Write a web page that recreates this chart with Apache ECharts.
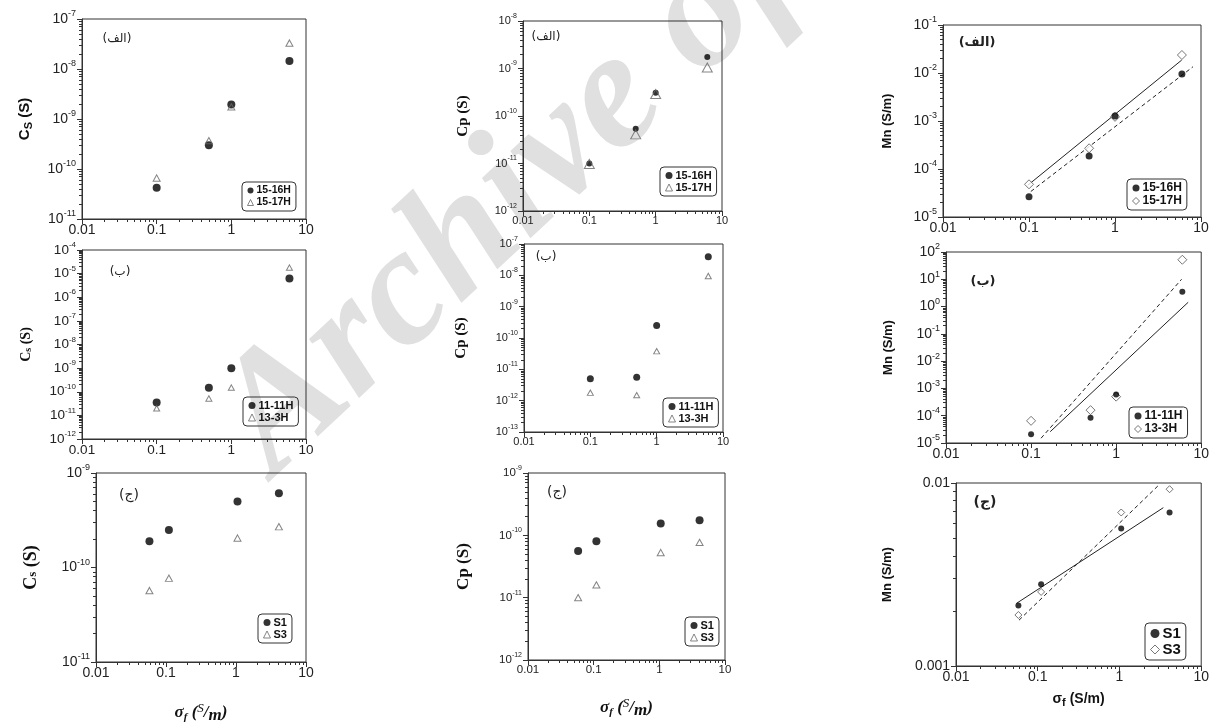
<!DOCTYPE html>
<html>
<head>
<meta charset="utf-8">
<script src="https://cdn.jsdelivr.net/npm/echarts@6/dist/echarts.min.js"></script>
<style>
  html, body { margin: 0; padding: 0; background: #fff; }
  #chart { width: 1212px; height: 725px; }
</style>
</head>
<body>
<div id="chart"></div>
<script>
// ---- σf values (S/m) ----
const sigmaAB = [0.1, 0.5, 1, 6];
const sigmaC = [0.058, 0.11, 1.05, 4.1];

// ---- tick labels ----
const xTicks = [0.01, 0.1, 1, 10];
const xTickLabels = ['0.01', '0.1', '1', '10'];
const mnTicksC = [0.001, 0.01];
const mnTickLabelsC = ['0.001', '0.01'];

// ---- panel (الف) ----
const cs_15_16H = [4.2e-11, 3.0e-10, 1.95e-9, 1.45e-8];
const cs_15_17H = [6.6e-11, 3.7e-10, 1.75e-9, 3.3e-8];
const cp_15_16H = [1.0e-11, 5.4e-11, 3.1e-10, 1.74e-9];
const cp_15_17H = [9.8e-12, 4.1e-11, 2.9e-10, 1.05e-9];
const mn_15_16H = [2.65e-5, 1.86e-4, 1.27e-3, 9.5e-3];
const mn_15_17H = [4.8e-5, 2.7e-4, 1.22e-3, 2.37e-2];
const mnFitSolidA = [[0.097, 4.6e-5], [5.97, 1.86e-2]];
const mnFitDashedA = [[0.105, 3.4e-5], [8.07, 1.35e-2]];

// ---- panel (ب) ----
const cs_11_11H = [3.5e-11, 1.48e-10, 1.0e-9, 6.2e-6];
const cs_13_3H = [2.0e-11, 5.2e-11, 1.5e-10, 1.8e-5];
const cp_11_11H = [5.0e-12, 5.6e-12, 2.5e-10, 3.9e-8];
const cp_13_3H = [1.8e-12, 1.5e-12, 3.8e-11, 9.5e-9];
const mn_11_11H = [2.1e-5, 8.5e-5, 6.0e-4, 3.5];
const mn_13_3H = [6.5e-5, 1.6e-4, 5.0e-4, 52];
const mnFitSolidB = [[0.168, 2.6e-5], [7.03, 1.44]];
const mnFitDashedB = [[0.131, 1.5e-5], [5.88, 10]];

// ---- panel (ج) ----
const cs_S1 = [1.9e-10, 2.5e-10, 5.0e-10, 6.1e-10];
const cs_S3 = [5.7e-11, 7.7e-11, 2.05e-10, 2.7e-10];
const cp_S1 = [5.6e-11, 8.0e-11, 1.55e-10, 1.74e-10];
const cp_S3 = [1.0e-11, 1.6e-11, 5.3e-11, 7.7e-11];
const mn_S1 = [2.14e-3, 2.8e-3, 5.65e-3, 6.9e-3];
const mn_S3 = [1.9e-3, 2.54e-3, 6.9e-3, 9.25e-3];
const mnFitSolidC = [[0.055, 2.2e-3], [3.44, 7.33e-3]];
const mnFitDashedC = [[0.059, 1.78e-3], [3.07, 9.8e-3]];

const SANS = '"Liberation Sans", Arial, sans-serif';
const SERIF = '"Liberation Serif", "Times New Roman", serif';
const ARABIC = '"DejaVu Sans", sans-serif';

// decade ticks and 2..9 minor ticks between two powers of ten
function decades(lo, hi) {
  const out = [];
  for (let e = lo; e <= hi; e++) out.push(Number(Math.pow(10, e).toPrecision(3)));
  return out;
}
function minors(lo, hi) {
  const out = [];
  for (let e = lo; e < hi; e++)
    for (let k = 2; k <= 9; k++) out.push(Number((k * Math.pow(10, e)).toPrecision(3)));
  return out;
}
function pow10Label(v) {
  return '10{e|' + Math.round(Math.log10(v)) + '}';
}

const nameCsBold = { text: '{b|C}{bs|S}{b| (S)}', rich: {
  b: { fontFamily: SANS, fontWeight: 'bold', fontSize: 15, color: '#111' },
  bs: { fontFamily: SANS, fontWeight: 'bold', fontSize: 11, color: '#111', padding: [7, 0, 0, 0] } } };
function nameCsSerif(fs) {
  return { text: '{c|C}{s|s}{c| (S)}', rich: {
    c: { fontFamily: SERIF, fontWeight: 'bold', fontSize: fs, color: '#111' },
    s: { fontFamily: SERIF, fontWeight: 'bold', fontSize: Math.round(fs * 0.72), color: '#111', padding: [4, 0, 0, 0] } } };
}
function nameCp(fs) {
  return { text: '{c|Cp (S)}', rich: { c: { fontFamily: SERIF, fontWeight: 'bold', fontSize: fs, color: '#111' } } };
}
const nameMn = { text: '{m|Mn (S/m)}', rich: { m: { fontFamily: SANS, fontWeight: 'bold', fontSize: 13, color: '#111' } } };

const sigmaSerif = { text: '{g|σ}{f|f}{g| (}{S|S}{g|/}{m|m}{g|)}', rich: {
  g: { fontFamily: SERIF, fontStyle: 'italic', fontWeight: 'bold', fontSize: 17, color: '#111' },
  f: { fontFamily: SERIF, fontStyle: 'italic', fontWeight: 'bold', fontSize: 11, color: '#111', padding: [8, 0, 0, 0] },
  S: { fontFamily: SERIF, fontStyle: 'italic', fontSize: 13, color: '#111', padding: [0, 0, 8, 0] },
  m: { fontFamily: SERIF, fontStyle: 'italic', fontWeight: 'bold', fontSize: 17, color: '#111', padding: [5, 0, 0, 0] } } };
const sigmaSans = { text: '{g|σ}{f|f}{g| (S/m)}', rich: {
  g: { fontFamily: SANS, fontWeight: 'bold', fontSize: 14, color: '#111' },
  f: { fontFamily: SANS, fontWeight: 'bold', fontSize: 11, color: '#111', padding: [7, 0, 0, 0] } } };

const DOT = { symbol: 'circle', itemStyle: { color: '#000' } };
const TRI = { symbol: 'triangle', itemStyle: { color: 'rgba(255,255,255,0)', borderColor: '#666', borderWidth: 1 } };
const DIA = { symbol: 'diamond', itemStyle: { color: '#fff', borderColor: '#555', borderWidth: 1 } };

const panels = [
  { grid: { left: 82, top: 19, width: 224, height: 200 }, yExp: [-11, -7], tickFont: 14, yName: nameCsBold, yGap: 48,
    pts: [{ n: '15-16H', x: sigmaAB, y: cs_15_16H, m: DOT, s: 8 }, { n: '15-17H', x: sigmaAB, y: cs_15_17H, m: TRI, s: 7 }],
    lg: { left: 242, top: 182, fs: 10.5 }, tag: { t: '(الف)', x: 117, y: 39, w: 'normal', fs: 12 } },
  { grid: { left: 523, top: 21, width: 199, height: 190 }, yExp: [-12, -8], tickFont: 11, yName: nameCp(15), yGap: 52,
    pts: [{ n: '15-16H', x: sigmaAB, y: cp_15_16H, m: DOT, s: 6 }, { n: '15-17H', x: sigmaAB, y: cp_15_17H, m: TRI, s: 10 }],
    lg: { left: 660, top: 167, fs: 11 }, tag: { t: '(الف)', x: 546, y: 37, w: 'normal', fs: 12 } },
  { grid: { left: 943, top: 25, width: 258, height: 192 }, yExp: [-5, -1], tickFont: 14, yName: nameMn, yGap: 49,
    pts: [{ n: '15-17H', x: sigmaAB, y: mn_15_17H, m: DIA, s: 9 }, { n: '15-16H', x: sigmaAB, y: mn_15_16H, m: DOT, s: 7 }],
    fits: [[mnFitSolidA, 'solid'], [mnFitDashedA, [4, 3]]],
    lg: { left: 1127, top: 179, fs: 12, order: ['15-16H', '15-17H'] }, tag: { t: '(الف)', x: 977, y: 43, w: 'bold', fs: 13 } },
  { grid: { left: 82, top: 250, width: 224, height: 189 }, yExp: [-12, -4], tickFont: 13.5, yName: nameCsSerif(14), yGap: 49,
    pts: [{ n: '11-11H', x: sigmaAB, y: cs_11_11H, m: DOT, s: 8 }, { n: '13-3H', x: sigmaAB, y: cs_13_3H, m: TRI, s: 6 }],
    lg: { left: 243, top: 397, fs: 11 }, tag: { t: '(ب)', x: 120, y: 272, w: 'normal', fs: 12 } },
  { grid: { left: 524, top: 244, width: 199, height: 188 }, yExp: [-13, -7], tickFont: 11, yName: nameCp(15), yGap: 55,
    pts: [{ n: '11-11H', x: sigmaAB, y: cp_11_11H, m: DOT, s: 7 }, { n: '13-3H', x: sigmaAB, y: cp_13_3H, m: TRI, s: 6 }],
    lg: { left: 663, top: 398, fs: 11 }, tag: { t: '(ب)', x: 546, y: 257, w: 'normal', fs: 12 } },
  { grid: { left: 946, top: 252, width: 257, height: 191 }, yExp: [-5, 2], tickFont: 14, yName: nameMn, yGap: 51,
    pts: [{ n: '13-3H', x: sigmaAB, y: mn_13_3H, m: DIA, s: 9 }, { n: '11-11H', x: sigmaAB, y: mn_11_11H, m: DOT, s: 6 }],
    fits: [[mnFitSolidB, 'solid'], [mnFitDashedB, [4, 3]]],
    lg: { left: 1129, top: 407, fs: 12, order: ['11-11H', '13-3H'] }, tag: { t: '(ب)', x: 983, y: 282, w: 'bold', fs: 13 } },
  { grid: { left: 96, top: 473, width: 210, height: 191 }, yExp: [-11, -9], tickFont: 14, yName: nameCsSerif(18), yGap: 56,
    xName: sigmaSerif, xGap: 40,
    pts: [{ n: 'S1', x: sigmaC, y: cs_S1, m: DOT, s: 8 }, { n: 'S3', x: sigmaC, y: cs_S3, m: TRI, s: 7 }],
    lg: { left: 258, top: 614, fs: 11 }, tag: { t: '(ج)', x: 129, y: 495, w: 'normal', fs: 14 } },
  { grid: { left: 528, top: 473, width: 197, height: 187 }, yExp: [-12, -9], tickFont: 11.5, yName: nameCp(17), yGap: 56,
    xName: sigmaSerif, xGap: 37,
    pts: [{ n: 'S1', x: sigmaC, y: cp_S1, m: DOT, s: 8 }, { n: 'S3', x: sigmaC, y: cp_S3, m: TRI, s: 7 }],
    lg: { left: 685, top: 617, fs: 11 }, tag: { t: '(ج)', x: 557, y: 492, w: 'normal', fs: 14 } },
  { grid: { left: 956, top: 483, width: 246, height: 183 }, yExp: [-3, -2], plainY: true, tickFont: 14, yName: nameMn, yGap: 62,
    xName: sigmaSans, xGap: 24,
    pts: [{ n: 'S3', x: sigmaC, y: mn_S3, m: DIA, s: 7 }, { n: 'S1', x: sigmaC, y: mn_S1, m: DOT, s: 6 }],
    fits: [[mnFitSolidC, 'solid'], [mnFitDashedC, [4, 3]]],
    lg: { left: 1145, top: 623, fs: 15, order: ['S1', 'S3'] }, tag: { t: '(ج)', x: 985, y: 502, w: 'bold', fs: 14 } }
];

const grid = [], xAxis = [], yAxis = [], series = [], legend = [], graphic = [];
const AX = '#333';

panels.forEach((p, i) => {
  grid.push(Object.assign({ show: true, borderColor: AX, borderWidth: 1, backgroundColor: 'transparent' }, p.grid));
  const xi = xAxis.length, yi = yAxis.length;
  const yMajor = p.plainY ? mnTicksC : decades(p.yExp[0], p.yExp[1]);
  const yMin = Math.pow(10, p.yExp[0]), yMax = Math.pow(10, p.yExp[1]);

  // major x axis with labels
  xAxis.push({
    type: 'log', gridIndex: i, min: 0.01, max: 10, position: 'bottom',
    axisLine: { show: true, lineStyle: { color: AX, width: 1 } },
    axisTick: { show: true, customValues: xTicks, length: 5, lineStyle: { color: AX } },
    axisLabel: { customValues: xTicks, margin: 4, color: '#222', fontFamily: SANS, fontSize: p.tickFont,
      formatter: v => xTickLabels[xTicks.findIndex(t => Math.abs(Math.log10(t) - Math.log10(v)) < 1e-6)] },
    splitLine: { show: false },
    name: p.xName ? p.xName.text : '', nameLocation: 'middle', nameGap: p.xGap || 0,
    nameTextStyle: p.xName ? { rich: p.xName.rich } : {}
  });
  // minor x ticks
  xAxis.push({
    type: 'log', gridIndex: i, min: 0.01, max: 10, position: 'bottom',
    axisLine: { show: false }, axisLabel: { show: false }, splitLine: { show: false },
    axisTick: { show: true, customValues: minors(-2, 1), length: 3, lineStyle: { color: AX } }
  });
  // major y axis with labels
  yAxis.push({
    type: 'log', gridIndex: i, min: yMin, max: yMax, position: 'left',
    axisLine: { show: true, lineStyle: { color: AX, width: 1 } },
    axisTick: { show: true, customValues: yMajor, length: 5, lineStyle: { color: AX } },
    axisLabel: { customValues: yMajor, margin: 6, color: '#222', fontFamily: SANS, fontSize: p.tickFont,
      formatter: p.plainY
        ? (v => mnTickLabelsC[mnTicksC.findIndex(t => Math.abs(Math.log10(t) - Math.log10(v)) < 1e-6)])
        : pow10Label,
      rich: { e: { fontFamily: SANS, fontSize: Math.round(p.tickFont * 0.62), color: '#222', padding: [0, 0, 10, 0] } } },
    splitLine: { show: false },
    name: p.yName.text, nameLocation: 'middle', nameRotate: 90, nameGap: p.yGap,
    nameTextStyle: { rich: p.yName.rich }
  });
  // minor y ticks
  yAxis.push({
    type: 'log', gridIndex: i, min: yMin, max: yMax, position: 'left',
    axisLine: { show: false }, axisLabel: { show: false }, splitLine: { show: false },
    axisTick: { show: true, customValues: minors(p.yExp[0], p.yExp[1]), length: 3, lineStyle: { color: AX } }
  });

  (p.fits || []).forEach(([pts, style]) => {
    series.push({
      type: 'line', name: 'fit', xAxisIndex: xi, yAxisIndex: yi, data: pts,
      symbol: 'none', silent: true, z: 1,
      lineStyle: { color: '#222', width: 1, type: style }
    });
  });

  p.pts.forEach(s => {
    series.push({
      type: 'scatter', name: s.n, xAxisIndex: xi, yAxisIndex: yi,
      data: s.x.map((x, k) => [x, s.y[k]]),
      symbol: s.m.symbol, symbolSize: s.m.symbol === 'triangle' ? [s.s, s.s * 0.9] : s.s,
      itemStyle: s.m.itemStyle, z: 3
    });
  });

  const order = p.lg.order || p.pts.map(s => s.n);
  legend.push({
    left: p.lg.left, top: p.lg.top, orient: 'vertical', selectedMode: false,
    borderColor: '#333', borderWidth: 1, borderRadius: 4, padding: [3, 5, 3, 5],
    itemGap: 1, itemWidth: Math.round(p.lg.fs * 0.6), itemHeight: Math.round(p.lg.fs * 0.6),
    textStyle: { fontFamily: SANS, fontWeight: 'bold', fontSize: p.lg.fs, color: '#111', padding: [0, 0, 0, -2] },
    data: order.map(n => {
      const s = p.pts.find(q => q.n === n);
      return { name: n, icon: s.m.symbol, itemStyle: s.m.itemStyle };
    })
  });

  graphic.push({
    type: 'text', x: p.tag.x, y: p.tag.y, z: 10,
    style: { text: p.tag.t, fill: '#222', font: p.tag.w + ' ' + p.tag.fs + 'px ' + ARABIC, align: 'center', verticalAlign: 'middle' }
  });
});

// diagonal archive stamp behind the plots
graphic.unshift({
  type: 'text', x: 245, y: 445, rotation: 43 * Math.PI / 180, z: -10, silent: true,
  style: { text: 'Archive of SID', fill: '#e0e0e0', font: 'italic bold 168px ' + SERIF, align: 'left', verticalAlign: 'middle' }
});

const chart = echarts.init(document.getElementById('chart'), null, { renderer: 'canvas' });
chart.setOption({
  animation: false,
  backgroundColor: '#fff',
  grid, xAxis, yAxis, series, legend, graphic
});
</script>
</body>
</html>
